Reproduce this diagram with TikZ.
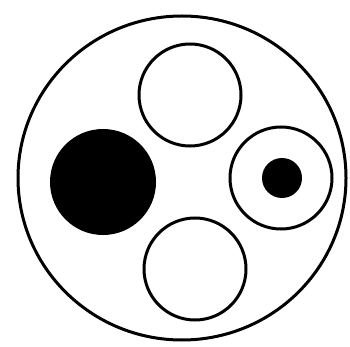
\documentclass[tikz,border=0pt]{standalone}
\begin{document}
\begin{tikzpicture}[x=1pt,y=-1pt,
  ring/.style={draw=black,line width=3pt},
  blob/.style={fill=black}]
\useasboundingbox (0,0) rectangle (350,347);
\draw[ring] (182,178) ellipse [x radius=164, y radius=162];
\draw[ring] (190,95) circle [radius=51];
\draw[ring] (195,269) circle [radius=51];
\fill[blob] (103,182) circle [radius=53];
\draw[ring] (281,178) circle [radius=51];
\fill[blob] (282,178) circle [radius=20];
\end{tikzpicture}
\end{document}
